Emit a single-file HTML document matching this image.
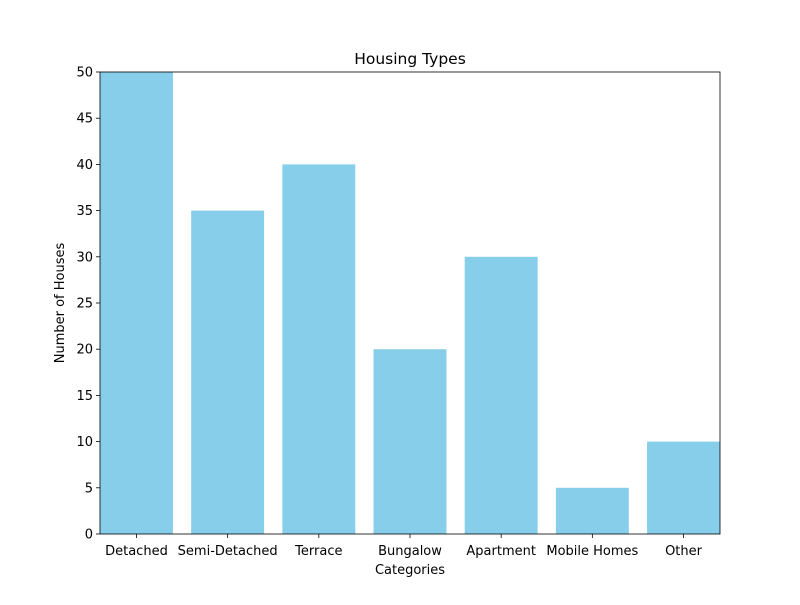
<!DOCTYPE html>
<html><head><meta charset="utf-8"><style>
body{margin:0;background:#fff;}
svg text{font-family:"DejaVu Sans","Liberation Sans",sans-serif;font-size:13px;fill:#000;}
</style></head><body>
<svg id="chart" width="800" height="600">
<rect width="800" height="600" fill="#fff"/>
<text x="410" y="64" text-anchor="middle" style="font-size:15.5px">Housing Types</text>
<g id="bars"></g>
<g id="axes"></g>
<text x="410" y="574" text-anchor="middle">Categories</text>
<text transform="translate(64,303) rotate(-90)" text-anchor="middle">Number of Houses</text>
</svg>
<script>
const categories=["Detached","Semi-Detached","Terrace","Bungalow","Apartment","Mobile Homes","Other"];
const values=[50,35,40,20,30,5,10];
const yTicks=[0,5,10,15,20,25,30,35,40,45,50];
const L=100,R=720,T=72,B=534,yMax=50;
const xMin=-0.4,xMax=categories.length-1+0.4;
const xs=v=>L+(v-xMin)/(xMax-xMin)*(R-L);
const ys=v=>B-v/yMax*(B-T);
const NS="http://www.w3.org/2000/svg";
const bars=document.getElementById('bars'),axes=document.getElementById('axes');
function mk(t,a,p){const e=document.createElementNS(NS,t);for(const k in a)e.setAttribute(k,a[k]);p.appendChild(e);return e;}
values.forEach((v,i)=>{
 const x0=xs(i-0.4),x1=xs(i+0.4);
 const r=mk('rect',{x:x0,y:ys(v),width:x1-x0,height:B-ys(v),fill:'#87ceeb'},bars);
 
 
 const cx=xs(i);
 mk('line',{x1:cx,x2:cx,y1:B,y2:B+4,stroke:'#000','stroke-width':0.8},axes);
 const t=mk('text',{x:cx,y:B+21,'text-anchor':'middle'},axes);
 t.textContent=categories[i];
 
 
});
yTicks.forEach(v=>{
 const y=ys(v);
 mk('line',{x1:L-4,x2:L,y1:y,y2:y,stroke:'#000','stroke-width':0.8},axes);
 const t=mk('text',{x:L-7,y:y+4.5,'text-anchor':'end'},axes);
 t.textContent=v;
 
 
});
const f=mk('rect',{x:L,y:T,width:R-L,height:B-T,fill:'none',stroke:'#000','stroke-width':0.8},axes);


</script>
</body></html>
